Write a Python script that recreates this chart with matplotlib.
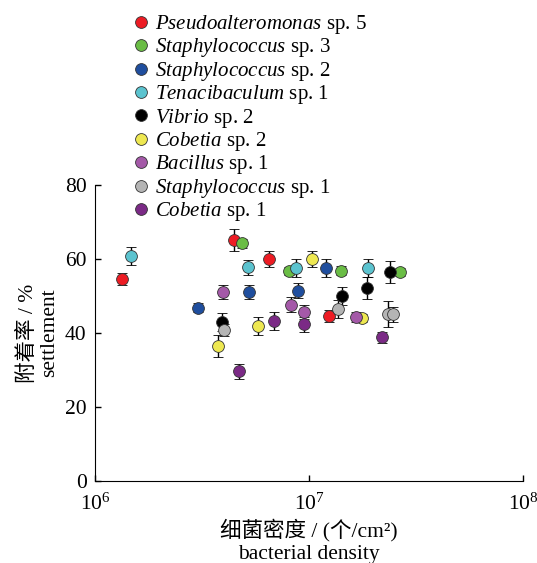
import matplotlib
matplotlib.use("Agg")
import matplotlib.pyplot as plt
from matplotlib.lines import Line2D

plt.rcParams['font.family'] = ['Liberation Serif', 'Noto Sans CJK SC', 'DejaVu Sans']
plt.rcParams['mathtext.fontset'] = 'custom'
plt.rcParams['mathtext.rm'] = 'Liberation Serif'
plt.rcParams['mathtext.it'] = 'Liberation Serif:italic'

species = [r"$\it{Pseudoalteromonas}$ sp. 5", r"$\it{Staphylococcus}$ sp. 3",
           r"$\it{Staphylococcus}$ sp. 2", r"$\it{Tenacibaculum}$ sp. 1",
           r"$\it{Vibrio}$ sp. 2", r"$\it{Cobetia}$ sp. 2", r"$\it{Bacillus}$ sp. 1",
           r"$\it{Staphylococcus}$ sp. 1", r"$\it{Cobetia}$ sp. 1"]
colors = ["#ED1C24", "#6ABD45", "#1F4E9E", "#5BC3CF", "#000000",
          "#EEE851", "#A459A8", "#B4B4B4", "#7B2A86"]

density = [
    [1.34e6, 4.46e6, 6.5e6, 1.24e7],
    [4.86e6, 8.1e6, 1.41e7, 2.66e7],
    [3.03e6, 5.25e6, 8.9e6, 1.2e7],
    [1.47e6, 5.19e6, 8.7e6, 1.89e7],
    [3.92e6, 1.43e7, 1.87e7, 2.39e7],
    [3.76e6, 5.78e6, 1.03e7, 1.77e7],
    [3.96e6, 8.24e6, 9.5e6, 1.66e7],
    [4.0e6, 1.37e7, 2.34e7, 2.47e7],
    [4.71e6, 6.86e6, 9.5e6, 2.19e7],
]
settlement = [
    [54.6, 65.1, 60.0, 44.6],
    [64.3, 56.8, 56.8, 56.5],
    [46.8, 51.1, 51.4, 57.6],
    [60.8, 57.8, 57.6, 57.6],
    [43.0, 50.0, 52.2, 56.5],
    [36.5, 41.9, 60.0, 44.1],
    [51.1, 47.6, 45.7, 44.3],
    [40.8, 46.5, 45.1, 45.1],
    [29.7, 43.2, 42.4, 38.9],
]
errors = [
    [1.5, 3.0, 2.2, 1.5],
    [1.2, 1.0, 1.2, 1.2],
    [1.2, 2.0, 2.0, 2.5],
    [2.5, 2.0, 2.5, 2.5],
    [2.5, 2.5, 3.0, 3.0],
    [3.0, 2.5, 2.2, 1.0],
    [2.0, 2.0, 2.0, 1.3],
    [1.5, 2.5, 3.5, 2.0],
    [2.0, 2.5, 2.0, 1.5],
]

fig = plt.figure(figsize=(5.37, 5.63), dpi=100)
ax = fig.add_axes([95/537, 1-481/563, 428/537, 296/563])

for i in range(len(species)):
    ax.errorbar(density[i], settlement[i], yerr=errors[i], fmt='o', color='black',
                ecolor='black', elinewidth=1.0, capsize=3.5, capthick=1.0,
                markerfacecolor=colors[i], markeredgecolor='#333333',
                markeredgewidth=0.6, markersize=8.5, zorder=3)

ax.set_xscale('log')
ax.set_xlim(1e6, 1e8)
ax.set_ylim(0, 80)
ax.set_yticks([0, 20, 40, 60, 80])
ax.set_xticks([1e6, 1e7, 1e8])
ax.minorticks_off()
ax.spines['top'].set_visible(False)
ax.spines['right'].set_visible(False)
ax.tick_params(direction='in', length=4, width=1, labelsize=15.5, pad=6)
ax.tick_params(axis='x', pad=9)

ax.set_ylabel("附着率 / %\nsettlement", fontsize=15.5, linespacing=1.15, labelpad=4)
ax.set_xlabel("细菌密度 / (个/cm²)\nbacterial density", fontsize=15.5, linespacing=1.25, labelpad=3)

handles = [Line2D([], [], marker='o', linestyle='none', markerfacecolor=c,
                  markeredgecolor='#333333', markeredgewidth=0.6, markersize=8.5)
           for c in colors]
fig.legend(handles, species, loc='upper left', bbox_to_anchor=(128/537, 1-13/563),
           frameon=False, fontsize=15, handletextpad=0.1, labelspacing=0.02,
           handlelength=1.2, borderpad=0, borderaxespad=0)

fig.savefig("out.png", dpi=100)
